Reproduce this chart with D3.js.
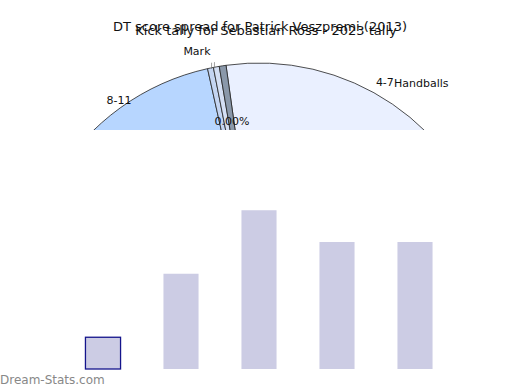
<!DOCTYPE html>
<html>
<head>
<meta charset="utf-8">
<script src="https://cdn.jsdelivr.net/npm/d3@7"></script>
<style>
  body { margin: 0; background: #fff; }
  svg { display: block; font-family: "DejaVu Sans", sans-serif; }
</style>
</head>
<body>
<div id="chart"></div>
<script>
// pie (only its top strip shows in the picture)
const pieLabels = ["4-7", "8-11", "Mark", "0-3", "Handballs"];
const pieValues = [47, 51.74, 0.4, 0.4, 0.46];
const pieColors = ["#eaf0ff", "#b7d6ff", "#c4d5f2", "#d4dff4", "#8a98aa"];

// bars
const barCategories = ["a", "b", "c", "d", "e"];
const barValues = [1, 3, 5, 4, 4];

const pieTitle = "Kick tally for Sebastian Ross - 2023 tally";
const barTitle = "DT score spread for Patrick Veszpremi (2013)";

const width = 520, height = 390;

const svg = d3.select("#chart")
  .append("svg")
  .attr("width", width)
  .attr("height", height);

svg.append("rect").attr("width", width).attr("height", height).attr("fill", "#fff");

svg.append("clipPath").attr("id", "topclip")
  .append("rect").attr("x", 0).attr("y", 0).attr("width", width).attr("height", 130);

const pieG = svg.append("g").attr("clip-path", "url(#topclip)");
const cx = 259, cy = 300, r = 237;
const g = pieG.append("g").attr("transform", `translate(${cx},${cy})`);

const rad = a => a * Math.PI / 180;
const start = rad(-8.0);
const pie = d3.pie().sort(null).startAngle(start).endAngle(start + 2 * Math.PI);
const arc = d3.arc().innerRadius(0).outerRadius(r);

g.selectAll("path")
  .data(pie(pieValues))
  .enter()
  .append("path")
  .attr("d", arc)
  .attr("fill", (d, i) => pieColors[i])
  .attr("stroke", "#222")
  .attr("stroke-width", 0.8);

// label helper: angle clockwise from 12 o'clock, distance from center
function polar(deg, dist) {
  return [dist * Math.sin(rad(deg)), -dist * Math.cos(rad(deg))];
}

const lbl = (text, deg, dist, anchor) => {
  const [x, y] = polar(deg, dist);
  g.append("text")
    .attr("x", x).attr("y", y)
    .attr("text-anchor", anchor)
    .attr("font-size", 11)
    .attr("fill", "#111")
    .text(text);
};
lbl(pieLabels[1], -35.5, 241, "middle");
lbl(pieLabels[0], 30.5, 248, "middle");
lbl(pieLabels[4], 32.4, 252, "start");
lbl(pieLabels[2], -14.2, 253, "middle");
lbl("0.00%", -8.8, 177, "middle");

// small leader ticks under "Mark"
[[-11.6, -11.3], [-10.9, -10.6]].forEach(([a1, a2]) => {
  const [x1, y1] = polar(a1, 236);
  const [x2, y2] = polar(a2, 242);
  g.append("line").attr("x1", x1).attr("y1", y1).attr("x2", x2).attr("y2", y2)
    .attr("stroke", "#777").attr("stroke-width", 0.7);
});

// titles (both overlap at the top)
svg.append("text")
  .attr("x", 260).attr("y", 31)
  .attr("text-anchor", "middle")
  .attr("font-size", 13)
  .attr("fill", "#111")
  .text(barTitle);

svg.append("text")
  .attr("x", 266).attr("y", 35)
  .attr("text-anchor", "middle")
  .attr("font-size", 13)
  .attr("fill", "#111")
  .text(pieTitle);

// bar chart
const x = d3.scaleBand()
  .domain(barCategories)
  .range([64, 454])
  .paddingInner(0.55)
  .paddingOuter(0.275);

const y = d3.scaleLinear()
  .domain([0, 5])
  .range([369, 210.25]);

svg.append("g")
  .selectAll("rect")
  .data(barValues)
  .enter()
  .append("rect")
  .attr("x", (d, i) => x(barCategories[i]))
  .attr("y", d => y(d))
  .attr("width", x.bandwidth())
  .attr("height", d => y(0) - y(d))
  .attr("fill", "#cccce4")
  .attr("stroke", (d, i) => i === 0 ? "#14148c" : "none")
  .attr("stroke-width", 1.3);

svg.append("text")
  .attr("x", 0).attr("y", 384)
  .attr("font-size", 12)
  .attr("fill", "#888")
  .text("Dream-Stats.com");
</script>
</body>
</html>
